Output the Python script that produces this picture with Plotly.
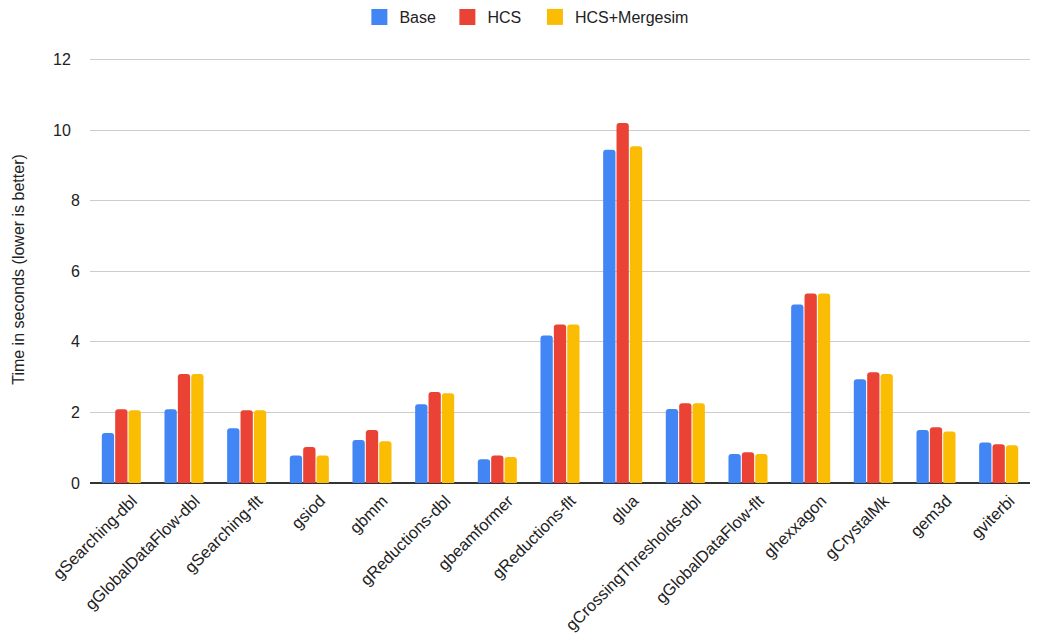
import plotly.graph_objects as go

benchmarks = [
    "gSearching-dbl", "gGlobalDataFlow-dbl", "gSearching-flt", "gsiod", "gbmm",
    "gReductions-dbl", "gbeamformer", "gReductions-flt", "glua",
    "gCrossingThresholds-dbl", "gGlobalDataFlow-flt", "ghexxagon", "gCrystalMk",
    "gem3d", "gviterbi",
]
base = [1.42, 2.09, 1.55, 0.78, 1.22, 2.23, 0.67, 4.18, 9.44, 2.10, 0.82, 5.06, 2.94, 1.50, 1.15]
hcs = [2.09, 3.09, 2.06, 1.02, 1.50, 2.58, 0.78, 4.49, 10.20, 2.26, 0.87, 5.37, 3.14, 1.58, 1.10]
hcs_mergesim = [2.06, 3.09, 2.06, 0.78, 1.18, 2.54, 0.74, 4.49, 9.54, 2.26, 0.82, 5.37, 3.09, 1.46, 1.07]

y_tick_values = [0, 2, 4, 6, 8, 10, 12]
y_tick_labels = ["0", "2", "4", "6", "8", "10", "12"]

series = [
    ("Base", base, "#4285F4", "legend"),
    ("HCS", hcs, "#EA4335", "legend"),
    ("HCS+Mergesim", hcs_mergesim, "#FBBC04", "legend2"),
]

fig = go.Figure()
for name, vals, color, leg in series:
    fig.add_trace(go.Bar(
        name=name, x=benchmarks, y=vals, legendgroup=name, showlegend=False,
        marker=dict(color=color, line=dict(width=0), cornerradius=3),
    ))
    # larger square swatch for the legend entry
    fig.add_trace(go.Scatter(
        name=name, x=[None], y=[None], mode="markers", legendgroup=name, legend=leg,
        marker=dict(symbol="square", size=16, color=color),
    ))

legend_style = dict(orientation="h", xanchor="left", xref="container",
                    y=1.0, yanchor="top", yref="container", font=dict(size=16),
                    itemwidth=30)

fig.update_layout(
    width=1057, height=637,
    margin=dict(l=90, r=27, t=56, b=154),
    paper_bgcolor="white", plot_bgcolor="white",
    font=dict(family="Liberation Sans, Arial, sans-serif", size=16, color="#222222"),
    barmode="group", bargap=0.36, bargroupgap=0.08,
    legend=dict(legend_style, x=0.34, entrywidth=43),
    legend2=dict(legend_style, x=0.5061),
    showlegend=True,
)

fig.update_xaxes(
    tickangle=-45, showgrid=False, showline=False, ticks="", automargin=False,
    tickfont=dict(size=16.5, color="#222222"), range=[-0.5, 14.5],
    ticklabelshift=11, ticklabelstandoff=4,
)
# two-digit labels carry a trailing figure space so their right edge sits further left
fig.update_yaxes(
    range=[0, 12.1], tickvals=y_tick_values,
    ticktext=[t if len(t) == 1 else t + "\u2007" for t in y_tick_labels],
    showgrid=True, gridcolor="#cccccc", gridwidth=1, automargin=False,
    zeroline=True, zerolinecolor="#333333", zerolinewidth=1.5,
    showline=False, ticks="outside", ticklen=6, tickcolor="white",
    tickfont=dict(size=16, color="#222222"),
    title=dict(text="Time in seconds (lower is better)", font=dict(size=16, color="#222222"), standoff=24),
)

fig.write_html("out.html")
